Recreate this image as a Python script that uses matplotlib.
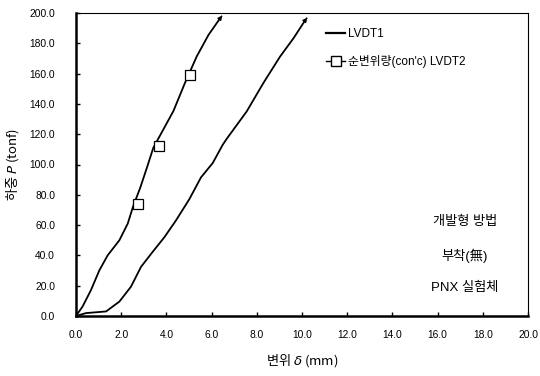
import matplotlib
matplotlib.use("Agg")
from matplotlib import pyplot as plt
from matplotlib.lines import Line2D

plt.rcParams['font.family'] = ['Liberation Sans', 'Noto Sans CJK KR', 'DejaVu Sans']
cjk = ['Noto Sans CJK KR', 'DejaVu Sans']

# LVDT1 (right curve)
lvdt1_x = [0.0, 0.44, 1.33, 1.92, 2.43, 2.88, 3.39, 3.91, 4.42, 5.01, 5.53, 6.05, 6.49, 6.67,
           7.55, 8.29, 9.03, 9.62, 10.13]
lvdt1_y = [0.0, 1.9, 3.0, 9.5, 19.3, 32.5, 42.3, 52.0, 63.0, 77.0, 91.5, 101.0, 113.0, 117.0,
           135.0, 153.8, 171.3, 183.3, 195.0]

# 순변위량(con'c) LVDT2 (left curve)
lvdt2_x = [0.0, 0.29, 0.66, 1.03, 1.40, 1.92, 2.29, 2.52, 2.85, 3.14, 3.42, 3.64, 4.31, 4.82,
           5.34, 5.86, 6.37]
lvdt2_y = [0.0, 6.2, 17.0, 30.0, 40.0, 50.0, 61.0, 72.0, 85.0, 98.0, 111.0, 117.0, 135.3, 153.8,
           171.3, 185.5, 196.4]

# square markers on the LVDT2 curve
mark_x = [2.76, 3.66, 5.04]
mark_y = [73.6, 112.2, 159.3]

x_ticks = [0, 2, 4, 6, 8, 10, 12, 14, 16, 18, 20]
y_ticks = [0, 20, 40, 60, 80, 100, 120, 140, 160, 180, 200]

fig = plt.figure(figsize=(5.4, 3.76), dpi=100)
ax = fig.add_axes([0.1407, 0.1596, 0.8373, 0.8058])

ax.plot(lvdt1_x, lvdt1_y, color="black", lw=1.3)
ax.plot(lvdt2_x, lvdt2_y, color="black", lw=1.3)
ax.plot(mark_x, mark_y, ls="none", marker="s", ms=6.5, mfc="white", mec="black", mew=0.9)

# small arrowheads at curve ends
for xs, ys in [(lvdt1_x, lvdt1_y), (lvdt2_x, lvdt2_y)]:
    ax.annotate("", xy=(xs[-1] + 0.1, ys[-1] + 2), xytext=(xs[-1], ys[-1]),
                arrowprops=dict(arrowstyle="-|>", color="black", lw=1.0,
                                mutation_scale=6))

ax.set_xlim(0, 20)
ax.set_ylim(0, 200)
ax.set_xticks(x_ticks)
ax.set_yticks(y_ticks)
ax.set_xticklabels([f"{v:.1f}" for v in x_ticks], fontsize=7.4)
ax.set_yticklabels([f"{v:.1f}" for v in y_ticks], fontsize=7.4)
ax.tick_params(direction="in", length=3, width=1)
ax.tick_params(axis="x", pad=10)
ax.tick_params(axis="y", pad=15)
for s in ["left", "bottom"]:
    ax.spines[s].set_linewidth(1.8)
for s in ["top", "right"]:
    ax.spines[s].set_linewidth(0.8)

ax.set_xlabel(r"변위 $\delta$ (mm)", fontsize=9.5, labelpad=9, family=cjk)
ax.set_ylabel(r"하중 $P$ (tonf)", fontsize=9.5, labelpad=6, family=cjk)

handles = [
    Line2D([], [], color="black", lw=1.6),
    Line2D([], [], color="black", lw=1.0, marker="s", ms=6.5, mfc="white", mec="black"),
]
ax.legend(handles, ["LVDT1", "순변위량(con'c) LVDT2"], loc="upper left",
          bbox_to_anchor=(0.53, 0.985), frameon=False, fontsize=8.5,
          handlelength=1.6, handletextpad=0.25, labelspacing=1.25)

ax.text(17.2, 62, "개발형 방법", ha="center", va="center", fontsize=9.5)
ax.text(17.2, 40, "부착(無)", ha="center", va="center", fontsize=9.5)
ax.text(17.2, 18.5, "PNX 실험체", ha="center", va="center", fontsize=9.5)

fig.savefig("out.png", dpi=100)
